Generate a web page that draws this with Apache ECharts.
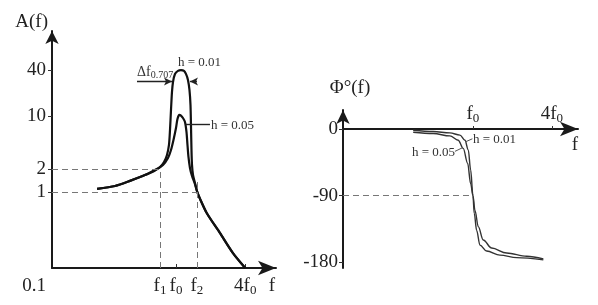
<!DOCTYPE html>
<html><head><meta charset="utf-8">
<script src="https://cdn.jsdelivr.net/npm/echarts@6/dist/echarts.min.js"></script>
<style>html,body{margin:0;padding:0;background:#fff}#c{width:598px;height:305px}</style>
</head><body><div id="c"></div>
<script>
const FONT = "'Liberation Serif', 'Times New Roman', serif";

// ---------- Amplitude-frequency chart (left) ----------
const ampXRange = [0.0835, 7.41];          // f / f0, log axis
const ampYRange = [0.1, 131];              // A(f), log axis
const ampXTickValues = [0.726, 1, 1.52, 4];
const ampXTickMain = ['f', 'f', 'f', '4f'];
const ampXTickSub = ['1', '0', '2', '0'];
const ampYTickValues = [0.1, 1, 2, 10, 40];
const ampYTickText = ['0.1', '1', '2', '10', '40'];
// [f/f0, A]
const ampH001 = [[0.206,1.10],[0.295,1.20],[0.398,1.40],[0.537,1.67],[0.657,1.95],[0.726,2.13],[0.787,2.48],[0.835,3.07],[0.869,4.15],[0.887,6.54],[0.905,12.0],[0.923,20.7],[0.942,28.0],[0.980,35.7],[1.041,39.2],[1.105,40],[1.174,39.2],[1.221,35.7],[1.271,29.8],[1.310,22.0],[1.337,14.0],[1.350,7.6],[1.364,3.57],[1.378,2.27],[1.406,1.67],[1.463,1.31],[1.522,1.03],[1.62,0.81],[1.85,0.53],[2.41,0.289],[3.13,0.157],[4.0,0.1]];
const ampH005 = [[0.206,1.10],[0.295,1.20],[0.398,1.40],[0.537,1.67],[0.657,1.92],[0.771,2.27],[0.852,2.80],[0.905,3.57],[0.951,4.83],[1.0,6.94],[1.030,9.1],[1.068,10.3],[1.105,10.1],[1.150,9.4],[1.197,8.34],[1.234,6.16],[1.259,4.15],[1.284,2.89],[1.323,2.07],[1.378,1.62],[1.463,1.27],[1.522,1.03],[1.62,0.81],[1.85,0.53],[2.41,0.289],[3.13,0.157],[4.0,0.1]];
const ampPeak = 40;
const level707 = 0.707 * ampPeak;

// ---------- Phase-frequency chart (right) ----------
const phXRange = [0.102, 6.33];
const phYRange = [-188, 26];
const phXTickValues = [1, 4];
const phXTickMain = ['f', '4f'];
const phXTickSub = ['0', '0'];
const phYTickValues = [0, -90, -180];
// [f/f0, phase deg]
const phH001 = [[0.350,-1.4],[0.498,-3.1],[0.667,-5],[0.796,-8],[0.869,-15],[0.921,-28],[0.960,-55],[1.0,-90],[1.023,-114],[1.067,-137],[1.131,-157],[1.272,-165],[1.607,-170.5],[2.157,-174],[3.443,-177]];
const phH005 = [[0.350,-4.1],[0.498,-5.8],[0.667,-9.1],[0.772,-14.9],[0.843,-26],[0.911,-46],[0.960,-73.5],[1.0,-90],[1.036,-110],[1.098,-132],[1.198,-150],[1.389,-161],[1.808,-167.6],[2.570,-172],[3.443,-175.7]];

const rich = {
  m: {fontFamily: FONT, fontSize: 19, lineHeight: 22, color: '#222'},
  s: {fontFamily: FONT, fontSize: 13, lineHeight: 10, verticalAlign: 'bottom', color: '#222'},
  low: {fontFamily: FONT, fontSize: 19, lineHeight: 22, color: '#222', padding: [36, 0, 0, 0]}
};
function findIdx(values, v) {
  return values.findIndex(x => Math.abs(x - v) <= 1e-3 * Math.abs(x) + 1e-9);
}
function subFormatter(values, mains, subs) {
  return function (v) {
    const i = findIdx(values, v);
    return i < 0 ? '' : '{m|' + mains[i] + '}{s|' + subs[i] + '}';
  };
}
const axisLineStyle = {color: '#1a1a1a', width: 2};
const dash = {type: [6, 4], color: '#777', width: 1};
const annText = {fontFamily: FONT, fontSize: 13, color: '#333'};

const chart = echarts.init(document.getElementById('c'), null, {renderer: 'canvas'});
chart.setOption({
  animation: false,
  backgroundColor: '#fff',
  grid: [
    {left: 52, top: 31, width: 224, height: 237},
    {left: 343, top: 110, width: 235, height: 158}
  ],
  xAxis: [
    {
      gridIndex: 0, type: 'log', min: ampXRange[0], max: ampXRange[1],
      splitLine: {show: false},
      axisLine: {lineStyle: axisLineStyle, symbol: ['none', 'arrow'], symbolSize: [11, 18]},
      axisTick: {show: true, inside: true, length: 4, customValues: ampXTickValues, lineStyle: {color: '#333', width: 1}},
      axisLabel: {customValues: ampXTickValues, margin: 7, rich: rich, formatter: subFormatter(ampXTickValues, ampXTickMain, ampXTickSub)},
      name: 'f', nameLocation: 'end', nameGap: -4,
      nameTextStyle: {fontFamily: FONT, fontSize: 19, lineHeight: 22, color: '#222', align: 'center', verticalAlign: 'top', padding: [7, 0, 0, 0]}
    },
    {
      // axis line drawn at phase = 0 by shifting a top axis down into the grid
      gridIndex: 1, type: 'log', min: phXRange[0], max: phXRange[1],
      position: 'top', offset: -19,
      splitLine: {show: false},
      axisLine: {onZero: false, lineStyle: axisLineStyle, symbol: ['none', 'arrow'], symbolSize: [11, 18]},
      axisTick: {show: true, length: 3, customValues: phXTickValues, lineStyle: {color: '#333', width: 1}},
      axisLabel: {customValues: phXTickValues, margin: 4, rich: rich, formatter: subFormatter(phXTickValues, phXTickMain, phXTickSub)},
      name: 'f', nameLocation: 'end', nameGap: -3,
      nameTextStyle: {fontFamily: FONT, fontSize: 19, lineHeight: 22, color: '#222', align: 'center', verticalAlign: 'top', padding: [5, 0, 0, 0]}
    }
  ],
  yAxis: [
    {
      gridIndex: 0, type: 'log', min: ampYRange[0], max: ampYRange[1],
      splitLine: {show: false},
      axisLine: {lineStyle: axisLineStyle, symbol: ['none', 'arrow'], symbolSize: [10, 13]},
      axisTick: {show: true, length: 4, customValues: ampYTickValues.slice(1), lineStyle: {color: '#333', width: 1}},
      axisLabel: {customValues: ampYTickValues, margin: 6, rich: rich, formatter: function (v) {
        const i = findIdx(ampYTickValues, v);
        if (i < 0) return '';
        return (i === 0 ? '{low|' : '{m|') + ampYTickText[i] + '}';
      }},
      name: 'A(f)', nameLocation: 'end', nameGap: 9,
      nameTextStyle: {fontFamily: FONT, fontSize: 19, color: '#222', align: 'right', verticalAlign: 'middle', padding: [0, 4, 0, 0]}
    },
    {
      gridIndex: 1, type: 'value', min: phYRange[0], max: phYRange[1],
      splitLine: {show: false},
      axisLine: {lineStyle: axisLineStyle, symbol: ['none', 'arrow'], symbolSize: [10, 14]},
      axisTick: {show: true, length: 4, customValues: phYTickValues, lineStyle: {color: '#333', width: 1}},
      axisLabel: {customValues: phYTickValues, margin: 5, rich: rich, formatter: v => '{m|' + v + '}'},
      name: 'Φ°(f)', nameLocation: 'end', nameGap: 22,
      nameTextStyle: {fontFamily: FONT, fontSize: 19, color: '#222', align: 'center', verticalAlign: 'middle', padding: [0, 0, 0, 14]}
    }
  ],
  series: [
    {
      name: 'h = 0.01', type: 'line', xAxisIndex: 0, yAxisIndex: 0, data: ampH001,
      showSymbol: false, smooth: 0.25,
      lineStyle: {color: '#111', width: 2.2}, silent: true,
      markLine: {
        silent: true, symbol: ['none', 'none'], label: {show: false},
        lineStyle: {color: '#222', width: 1.4, type: 'solid'},
        data: [
          [{coord: [0.458, level707], symbol: 'none'}, {coord: [0.923, level707], symbol: 'arrow', symbolSize: [6, 8]}],
          [{coord: [1.522, level707], symbol: 'none'}, {coord: [1.323, level707], symbol: 'arrow', symbolSize: [6, 8]}],
          [{coord: [1.21, 7.85]}, {coord: [1.975, 7.85]}]
        ]
      },
      markPoint: {
        silent: true, symbol: 'circle', symbolSize: 0,
        data: [
          {coord: [1.041, 49.8], label: Object.assign({show: true, position: 'right', distance: 0, formatter: 'h = 0.01'}, annText)},
          {coord: [2.015, 7.39], label: Object.assign({show: true, position: 'right', distance: 0, formatter: 'h = 0.05'}, annText)},
          {coord: [0.458, 37.5], label: {show: true, position: 'right', distance: 0, formatter: '{d|Δf}{s|0.707}',
            rich: {d: {fontFamily: FONT, fontSize: 14, color: '#333', lineHeight: 16}, s: {fontFamily: FONT, fontSize: 10, color: '#333', lineHeight: 8, verticalAlign: 'bottom'}}}}
        ]
      }
    },
    {
      name: 'h = 0.05', type: 'line', xAxisIndex: 0, yAxisIndex: 0, data: ampH005,
      showSymbol: false, smooth: 0.25,
      lineStyle: {color: '#111', width: 2.2}, silent: true,
      markLine: {
        silent: true, symbol: ['none', 'none'], label: {show: false}, lineStyle: dash,
        data: [
          [{coord: [ampXRange[0], 2]}, {coord: [ampXTickValues[0], 2]}],
          [{coord: [ampXTickValues[0], ampYRange[0]]}, {coord: [ampXTickValues[0], 2]}],
          [{coord: [ampXRange[0], 1]}, {coord: [ampXTickValues[2], 1]}],
          [{coord: [ampXTickValues[2], ampYRange[0]]}, {coord: [ampXTickValues[2], 1.4]}]
        ]
      }
    },
    {
      name: 'phase h = 0.01', type: 'line', xAxisIndex: 1, yAxisIndex: 1, data: phH001,
      showSymbol: false, smooth: 0.35, smoothMonotone: 'x',
      lineStyle: {color: '#333', width: 1.4}, silent: true,
      markLine: {
        silent: true, symbol: ['none', 'none'], label: {show: false},
        lineStyle: {color: '#555', width: 1, type: 'solid'},
        data: [
          [{coord: [0.88, -17]}, {coord: [0.99, -13]}],
          [{coord: [0.729, -30]}, {coord: [0.835, -25]}]
        ]
      },
      markPoint: {
        silent: true, symbol: 'circle', symbolSize: 0,
        data: [
          {coord: [1.0, -13.5], label: Object.assign({show: true, position: 'right', distance: 0, formatter: 'h = 0.01'}, annText)},
          {coord: [0.729, -31], label: Object.assign({show: true, position: 'left', distance: 0, formatter: 'h = 0.05'}, annText)}
        ]
      }
    },
    {
      name: 'phase h = 0.05', type: 'line', xAxisIndex: 1, yAxisIndex: 1, data: phH005,
      showSymbol: false, smooth: 0.35, smoothMonotone: 'x',
      lineStyle: {color: '#333', width: 1.4}, silent: true,
      markLine: {
        silent: true, symbol: ['none', 'none'], label: {show: false}, lineStyle: dash,
        data: [
          [{coord: [phXRange[0], -90]}, {coord: [1, -90]}]
        ]
      }
    }
  ]
});
</script></body></html>
